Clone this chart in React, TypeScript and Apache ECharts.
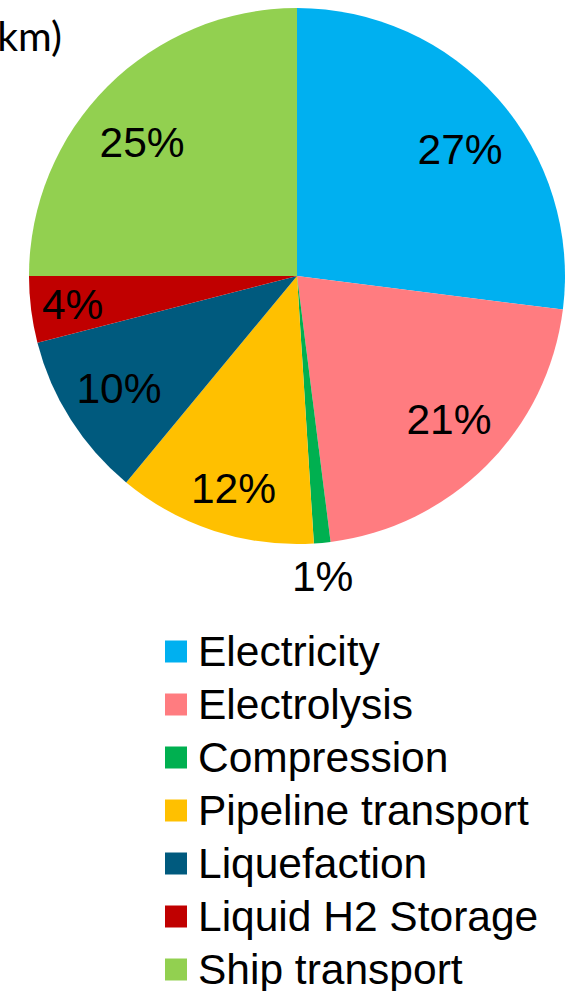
import React, { useEffect, useRef } from "react";
import * as echarts from "echarts";

const categories = [
  "Electricity",
  "Electrolysis",
  "Compression",
  "Pipeline transport",
  "Liquefaction",
  "Liquid H2 Storage",
  "Ship transport",
];
const shares = [27, 21, 1, 12, 10, 4, 25];
const colors = ["#00B0F0", "#FF7C80", "#00B050", "#FFC000", "#005A7E", "#C00000", "#92D050"];
// the small slice whose label sits outside the pie
const outsideLabel = "Compression";
// small nudges [dx, dy] of each percentage label from its ring position
const labelNudge = [
  [4, 14],
  [2, -6],
  [-3, -3],
  [2, 11],
  [1, -1],
  [-14, 2],
  [-5, 16],
];

const FONT = "'Liberation Sans', Arial, sans-serif";
const FONT_SIZE = 42.5;
const CENTER = [297, 276];
const R = 268;

export default function App() {
  const ref = useRef<HTMLDivElement>(null);

  useEffect(() => {
    if (!ref.current) return;
    const chart = echarts.init(ref.current, null, { renderer: "svg" });

    const pieData = categories.map((name, i) => ({
      name,
      value: shares[i],
      itemStyle: { color: colors[i] },
    }));

    const labelStyle = {
      show: true,
      position: "inside" as const,
      formatter: "{c}%",
      fontFamily: FONT,
      fontSize: FONT_SIZE,
      color: "#000",
    };

    chart.setOption({
      animation: false,
      backgroundColor: "#fff",
      graphic: [
        {
          type: "text",
          x: 62,
          y: 35,
          style: {
            text: "km)",
            fontFamily: "Lato, 'Open Sans', sans-serif",
            fontSize: 41,
            fill: "#000",
            align: "right",
            verticalAlign: "middle",
          },
        },
      ],
      legend: {
        orient: "vertical",
        left: 165,
        top: 630,
        width: 400,
        height: 420,
        padding: 0,
        data: categories,
        icon: "rect",
        itemWidth: 22,
        itemHeight: 22,
        itemGap: 10,
        selectedMode: false,
        textStyle: {
          fontFamily: FONT,
          fontSize: FONT_SIZE,
          lineHeight: 42,
          color: "#000",
          padding: [0, 0, 0, 6],
        },
      },
      series: [
        {
          type: "pie",
          center: CENTER,
          radius: [0, R],
          startAngle: 90,
          clockwise: true,
          silent: true,
          label: { show: false },
          labelLine: { show: false },
          data: pieData,
        },
        {
          // transparent ring that carries the in-slice percentage labels
          type: "pie",
          center: CENTER,
          radius: [150, R],
          startAngle: 90,
          clockwise: true,
          silent: true,
          itemStyle: { color: "rgba(0,0,0,0)" },
          label: labelStyle,
          labelLine: { show: false },
          data: categories.map((name, i) => ({
            name,
            value: shares[i],
            label: { show: name !== outsideLabel, offset: labelNudge[i] },
          })),
        },
        {
          // outer ring used to place the label of the thin slice below the pie
          type: "pie",
          center: CENTER,
          radius: [R + 10, R + 58],
          startAngle: 90,
          clockwise: true,
          silent: true,
          itemStyle: { color: "rgba(0,0,0,0)" },
          label: labelStyle,
          labelLine: { show: false },
          data: categories.map((name, i) => ({
            name,
            value: shares[i],
            label: { show: name === outsideLabel, offset: labelNudge[i] },
          })),
        },
      ],
    });

    return () => chart.dispose();
  }, []);

  return (
    <div
      ref={ref}
      style={{ position: "absolute", left: 0, top: 0, width: 575, height: 991 }}
    />
  );
}
